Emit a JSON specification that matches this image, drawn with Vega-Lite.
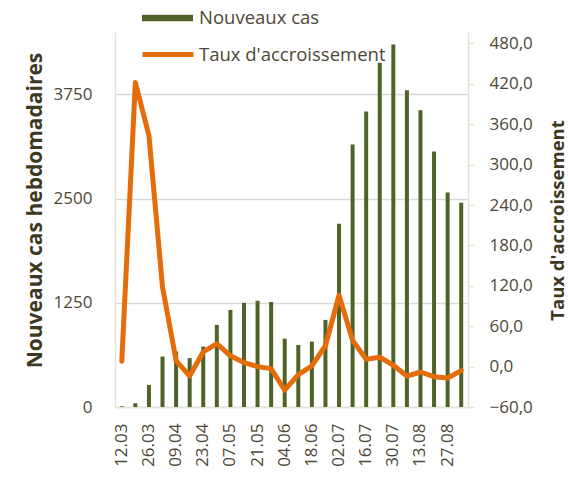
{
  "$schema": "https://vega.github.io/schema/vega-lite/v6.json",
  "width": 353,
  "height": 375,
  "autosize": {"type": "none"},
  "padding": {"left": 115, "top": 32, "right": 100, "bottom": 72},
  "background": "white",
  "config": {"view": {"stroke": null}, "font": "Open Sans"},
  "data": {"values": [
    {"date": "12.03", "cases": 8, "rate": 8},
    {"date": "19.03", "cases": 45, "rate": 422},
    {"date": "26.03", "cases": 265, "rate": 343},
    {"date": "02.04", "cases": 605, "rate": 118},
    {"date": "09.04", "cases": 665, "rate": 9},
    {"date": "16.04", "cases": 587, "rate": -14},
    {"date": "23.04", "cases": 725, "rate": 22},
    {"date": "30.04", "cases": 985, "rate": 34},
    {"date": "07.05", "cases": 1165, "rate": 16},
    {"date": "14.05", "cases": 1250, "rate": 6},
    {"date": "21.05", "cases": 1275, "rate": 0},
    {"date": "28.05", "cases": 1260, "rate": -3},
    {"date": "04.06", "cases": 820, "rate": -35},
    {"date": "11.06", "cases": 745, "rate": -12},
    {"date": "18.06", "cases": 785, "rate": 1},
    {"date": "25.06", "cases": 1045, "rate": 31},
    {"date": "02.07", "cases": 2200, "rate": 106},
    {"date": "09.07", "cases": 3150, "rate": 39},
    {"date": "16.07", "cases": 3545, "rate": 11},
    {"date": "23.07", "cases": 4130, "rate": 14},
    {"date": "30.07", "cases": 4350, "rate": 2},
    {"date": "06.08", "cases": 3800, "rate": -14},
    {"date": "13.08", "cases": 3560, "rate": -8},
    {"date": "20.08", "cases": 3065, "rate": -15},
    {"date": "27.08", "cases": 2575, "rate": -17},
    {"date": "03.09", "cases": 2450, "rate": -6}
  ]},
  "encoding": {
    "x": {
      "field": "date", "type": "ordinal", "sort": null,
      "scale": {"paddingInner": 0, "paddingOuter": 0},
      "axis": {
        "title": null,
        "values": ["12.03","26.03","09.04","23.04","07.05","21.05","04.06","18.06","02.07","16.07","30.07","13.08","27.08"],
        "labelAngle": 270, "labelAlign": "right", "labelBaseline": "middle",
        "labelPadding": 16, "ticks": false,
        "labelFontSize": 17, "labelColor": "#4d4836",
        "domainColor": "#e6e3d3", "domainWidth": 1.5, "grid": false
      }
    }
  },
  "layer": [
    {
      "mark": {"type": "bar", "size": 4},
      "encoding": {
        "y": {
          "field": "cases", "type": "quantitative",
          "scale": {"domain": [0, 4500], "nice": false, "zero": true},
          "axis": {
            "orient": "left",
            "values": [0, 1250, 2500, 3750], "format": "d",
            "title": "Nouveaux cas hebdomadaires",
            "titleFontSize": 21, "titleFontWeight": "bold", "titleColor": "#3d3920",
            "titleAngle": 270, "titleAlign": "center", "titleBaseline": "middle",
            "titleX": -80, "titleY": 178, "titleLimit": 400,
            "labelFontSize": 17, "labelColor": "#4d4836", "labelPadding": 23,
            "ticks": false, "domainColor": "#e6e3d3", "domainWidth": 1.5,
            "grid": true, "gridColor": "#d9d9d9", "gridWidth": 1.5
          }
        },
        "fill": {
          "datum": "Nouveaux cas",
          "scale": {"range": ["#4f6228"]},
          "legend": {
            "title": null, "orient": "none", "legendX": 27, "legendY": -39.5,
            "symbolType": "M-1,-0.13H1V0.13H-1Z", "symbolSize": 2601,
            "symbolStrokeWidth": 0, "labelFontSize": 18.5, "labelColor": "#4d4836",
            "labelOffset": 6, "padding": 0, "labelLimit": 400
          }
        }
      }
    },
    {
      "mark": {"type": "line", "strokeWidth": 5, "strokeJoin": "round", "strokeCap": "round"},
      "encoding": {
        "y": {
          "field": "rate", "type": "quantitative",
          "scale": {"domain": [-60, 497], "nice": false, "zero": false},
          "axis": {
            "orient": "right",
            "values": [-60, 0, 60, 120, 180, 240, 300, 360, 420, 480],
            "labelExpr": "replace(format(datum.value, '.1f'), '.', ',')",
            "title": "Taux d'accroissement",
            "titleFontSize": 18.5, "titleFontWeight": "bold", "titleColor": "#3d3920",
            "titleAngle": 270, "titleAlign": "center", "titleBaseline": "middle",
            "titleX": 89, "titleY": 188, "titleLimit": 400,
            "labelFontSize": 17, "labelColor": "#4d4836", "labelPadding": 15,
            "ticks": true, "tickSize": 6, "tickColor": "#e6e3d3", "tickWidth": 1.5,
            "domainColor": "#e6e3d3", "domainWidth": 1.5, "grid": false
          }
        },
        "stroke": {
          "datum": "Taux d'accroissement",
          "scale": {"range": ["#e46c0a"]},
          "legend": {
            "title": null, "orient": "none", "legendX": 25, "legendY": -5.5,
            "symbolType": "stroke", "symbolSize": 2601, "symbolStrokeWidth": 5,
            "labelFontSize": 18.5, "labelColor": "#4d4836",
            "labelOffset": 3, "padding": 0, "labelLimit": 400
          }
        }
      }
    }
  ],
  "resolve": {"scale": {"y": "independent"}}
}
